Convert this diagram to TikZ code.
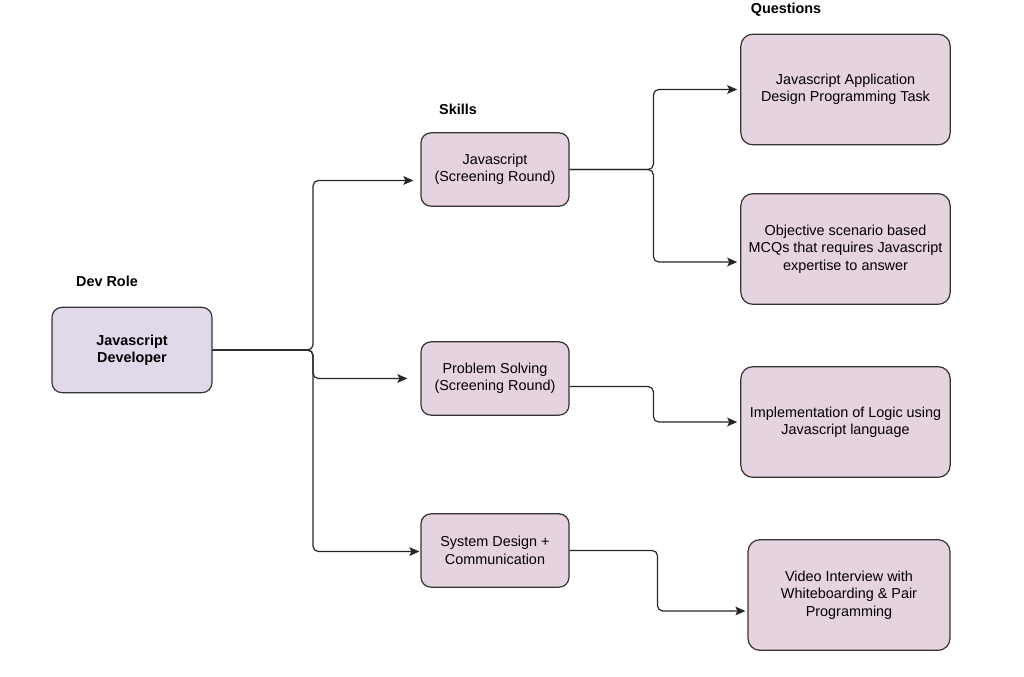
\documentclass[tikz,border=0pt]{standalone}
\usepackage{fontspec}
\setmainfont{Liberation Sans}
\usetikzlibrary{arrows,arrows.meta,calc,positioning}
\definecolor{rolefill}{HTML}{E1D9E9}
\definecolor{skillfill}{HTML}{E6D3E0}
\definecolor{edgegray}{HTML}{333333}
\newcommand{\diagfont}{\fontsize{10.8}{13}\selectfont}
\tikzset{%
	role/.style     = {draw=edgegray, fill=rolefill, rectangle, rounded corners=7.5pt, line width=0.9pt, minimum width=120pt, minimum height=64pt, align=center, font=\diagfont\bfseries},
	skill/.style    = {draw=edgegray, fill=skillfill, rectangle, rounded corners=7.5pt, line width=0.9pt, minimum width=111pt, minimum height=55pt, align=center, font=\diagfont},
	question/.style = {draw=edgegray, fill=skillfill, rectangle, rounded corners=9pt, line width=0.9pt, minimum width=157pt, minimum height=83pt, align=center, font=\diagfont},
	heading/.style  = {font=\diagfont\bfseries}, % column titles
	waypoint/.style = {coordinate},
	arrow/.style    = {line width=0.9pt, draw=black!85, rounded corners=4pt, -{Stealth[length=7.5pt,width=6.5pt,inset=1.5pt]}},
}

\begin{document}
\begin{tikzpicture}[x=0.75pt,y=-0.75pt]
	\useasboundingbox (0,0) rectangle (1024,676);

	\node [role] (dev) at (132,350) {Javascript\\Developer};
	\node [heading] (devlbl) at (107,281) {Dev Role};

	\node [skill] (js) at (495,169.5) {Javascript\\(Screening Round)};
	\node [skill] (ps) at (495,378.5) {Problem Solving\\(Screening Round)};
	\node [skill] (sd) at (495,550.5) {System Design +\\Communication};
	\node [heading] (skilllbl) at (458,109) {Skills};

	\node [question] (q1) at (845.5,89.5) {Javascript Application\\Design Programming Task};
	\node [question] (q2) at (845.5,249) {Objective scenario based\\MCQs that requires Javascript\\expertise to answer};
	\node [question] (q3) at (845.5,422) {Implementation of Logic using\\Javascript language};
	\node [question, minimum width=151.5pt] (q4) at (849,595) {Video Interview with\\Whiteboarding \& Pair\\Programming};
	\node [heading] (qlbl) at (786,10) {Questions};

	% arrow ends, a little short of the boxes
	\node [waypoint] (jsin) at ($(js.west)+(-7,11)$) {};
	\node [waypoint] (psin) at ($(ps.west)+(-13,0)$) {};
	\node [waypoint] (sdin) at ($(sd.west)+(-1,1)$) {};
	\node [waypoint] (q1in) at ($(q1.west)+(-3,0)$) {};
	\node [waypoint] (q2in) at ($(q2.west)+(-3,13)$) {};
	\node [waypoint] (q3in) at ($(q3.west)+(-3,0)$) {};
	\node [waypoint] (q4in) at ($(q4.west)+(-2,16)$) {};
	\node [waypoint] (psout) at ($(ps.east)+(0,8)$) {};
	\node [waypoint] (mid) at ($ (dev.east)!0.5!(jsin) $) {};
	\node [waypoint] (split) at (mid |- dev.east) {};

	\draw[arrow] (dev.east) -- (split) |- (jsin);
	\draw[arrow] (dev.east) -- (split) |- (psin);
	\draw[arrow] (dev.east) -- (split) |- (sdin);
	\draw[arrow] (js.east) -| ($ (js.east)!0.5!(q1in) $) |- (q1in);
	\draw[arrow] (js.east) -| ($ (js.east)!0.5!(q2in) $) |- (q2in);
	\draw[arrow] (psout) -| ($ (psout)!0.5!(q3in) $) |- (q3in);
	\draw[arrow] (sd.east) -| ($ (sd.east)!0.5!(q4in) $) |- (q4in);
\end{tikzpicture}
\end{document}
